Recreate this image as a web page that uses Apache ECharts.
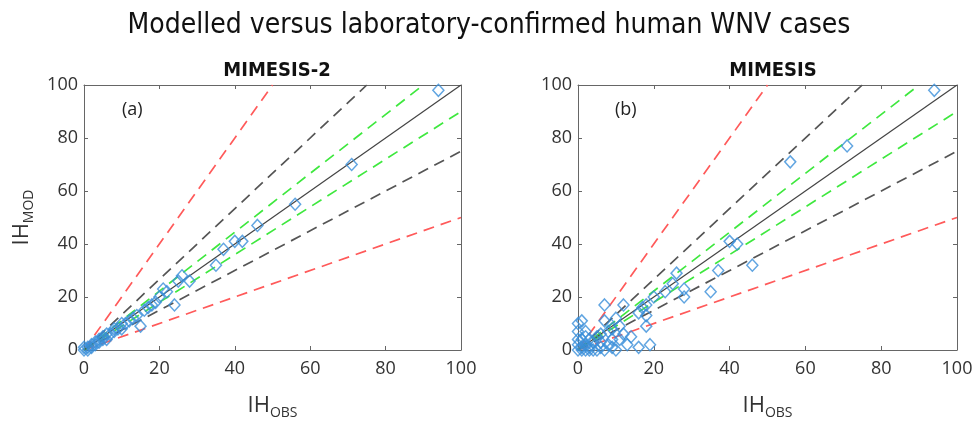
<!DOCTYPE html>
<html>
<head>
<meta charset="utf-8">
<script src="https://cdn.jsdelivr.net/npm/echarts@6/dist/echarts.min.js"></script>
<style>
  html, body { margin: 0; padding: 0; background: #fff; }
  #chart { width: 978px; height: 426px; }
</style>
</head>
<body>
<div id="chart"></div>
<script>
// observed vs modelled cases, panel (a) MIMESIS-2
var pointsA = [
  [94, 98], [71, 70], [56, 55], [46, 47], [42, 41], [40, 41], [37, 38], [35, 32],
  [28, 26], [26, 28], [25, 26], [24, 17], [22, 22], [21, 23], [20, 20], [19, 18],
  [18, 17], [17, 16], [16, 15], [15, 9], [14, 13], [13, 12], [12, 11], [11, 10],
  [10, 10], [10, 8], [9, 8], [8, 8], [8, 7], [7, 6], [6, 6], [6, 4], [5, 5],
  [5, 4], [4, 4], [4, 3], [3, 3], [3, 2], [2, 2], [2, 1], [1, 1], [1, 0], [0, 0], [0, 1]
]
// panel (b) MIMESIS
var pointsB = [
  [94, 98], [71, 77], [56, 71], [40, 41], [42, 40], [46, 32], [37, 30], [35, 22],
  [26, 29], [25, 25], [28, 20], [23, 22], [28, 23], [20, 20], [18, 17], [17, 16],
  [18, 13], [18, 9], [16, 14], [12, 17], [7, 17], [7, 11], [10, 12], [11, 9],
  [12, 6], [9, 8], [8, 7], [6, 6], [5, 5], [4, 3], [3, 4], [2, 2], [1, 1],
  [0, 10], [1, 11], [0, 7], [1, 4], [2, 7], [3, 1], [4, 0], [5, 0], [6, 1],
  [7, 0], [8, 2], [9, 1], [10, 0], [13, 2], [16, 1], [19, 2], [11, 4], [14, 5],
  [0, 0], [0, 2], [1, 0], [2, 0], [3, 0], [0, 4], [2, 5], [6, 3], [9, 4]
]
var ticks = [0, 20, 40, 60, 80, 100]
// reference lines: [x0, y0, x1, y1]
var lineRed = [[0, 0, 50, 100], [0, 0, 100, 50]]
var lineBlackDash = [[0, 0, 75, 100], [0, 0, 100, 75]]
var lineGreen = [[0, 0, 90, 100], [0, 0, 100, 90]]
var lineOneToOne = [[0, 0, 100, 100]]

var chart = echarts.init(document.getElementById('chart'))

var grids = [
  { left: 84, top: 85, width: 377, height: 265 },
  { left: 578, top: 85, width: 379, height: 265 }
]

var labelFont = { color: '#333', fontSize: 18, fontFamily: 'Open Sans' }
var nameRich = {
  a: { fontSize: 22, color: '#333', fontFamily: 'Open Sans' },
  b: { fontSize: 14, color: '#333', fontFamily: 'Open Sans', padding: [14, 0, 0, 0] }
}

function makeAxes(i) {
  var xs = [
    {
      gridIndex: i, type: 'value', min: 0, max: 100, interval: 20, position: 'bottom',
      axisLine: { onZero: false, lineStyle: { color: '#666' } },
      axisTick: { inside: true, length: 4, lineStyle: { color: '#666' } },
      axisLabel: Object.assign({ margin: 10 }, labelFont),
      splitLine: { show: false },
      name: '{a|IH}{b|OBS}', nameLocation: 'middle', nameGap: 42,
      nameTextStyle: { rich: nameRich }
    },
    {
      gridIndex: i, type: 'value', min: 0, max: 100, interval: 20, position: 'top',
      axisLine: { onZero: false, lineStyle: { color: '#666' } },
      axisTick: { inside: true, length: 4, lineStyle: { color: '#666' } },
      axisLabel: { show: false }, splitLine: { show: false }
    }
  ]
  var ys = [
    {
      gridIndex: i, type: 'value', min: 0, max: 100, interval: 20, position: 'left',
      axisLine: { onZero: false, lineStyle: { color: '#666' } },
      axisTick: { inside: true, length: 4, lineStyle: { color: '#666' } },
      axisLabel: Object.assign({ margin: 6 }, labelFont),
      splitLine: { show: false }
    },
    {
      gridIndex: i, type: 'value', min: 0, max: 100, interval: 20, position: 'right',
      axisLine: { onZero: false, lineStyle: { color: '#666' } },
      axisTick: { inside: true, length: 4, lineStyle: { color: '#666' } },
      axisLabel: { show: false }, splitLine: { show: false }
    }
  ]
  if (i === 0) {
    ys[0].name = '{a|IH}{b|MOD}'
    ys[0].nameLocation = 'middle'
    ys[0].nameGap = 48
    ys[0].nameTextStyle = { rich: nameRich }
  }
  return { xs: xs, ys: ys }
}

var xAxis = [], yAxis = []
;[0, 1].forEach(function (i) {
  var a = makeAxes(i)
  xAxis = xAxis.concat(a.xs)
  yAxis = yAxis.concat(a.ys)
})

function refSeries(idx, segs, color, type, width) {
  return segs.map(function (s) {
    return {
      type: 'line', xAxisIndex: idx * 2, yAxisIndex: idx * 2,
      data: [[s[0], s[1]], [s[2], s[3]]],
      symbol: 'none', silent: true, z: 2,
      lineStyle: { color: color, type: type, width: width }
    }
  })
}

var series = []
;[0, 1].forEach(function (i) {
  series = series.concat(
    refSeries(i, lineRed, '#ff5a5a', [11, 7], 1.7),
    refSeries(i, lineBlackDash, '#555', [11, 7], 1.7),
    refSeries(i, lineGreen, '#3fe83f', [11, 7], 1.7),
    refSeries(i, lineOneToOne, '#444', 'solid', 1.2)
  )
  series.push({
    type: 'scatter', xAxisIndex: i * 2, yAxisIndex: i * 2,
    data: i === 0 ? pointsA : pointsB,
    symbol: 'diamond', symbolSize: [11, 12], z: 3,
    itemStyle: { color: 'transparent', borderColor: '#3a8fd9', borderWidth: 1.5 }
  })
})

chart.setOption({
  animation: false,
  backgroundColor: '#fff',
  title: [
    {
      text: 'Modelled versus laboratory-confirmed human WNV cases',
      left: 'center', top: 7,
      textStyle: { fontSize: 28, fontWeight: 'normal', color: '#111', fontFamily: 'DejaVu Sans Condensed' }
    },
    {
      text: 'MIMESIS-2', left: 272, top: 56, textAlign: 'center',
      textStyle: { fontSize: 20, fontWeight: 'bold', color: '#111', fontFamily: 'DejaVu Sans Condensed' }
    },
    {
      text: 'MIMESIS', left: 768, top: 56, textAlign: 'center',
      textStyle: { fontSize: 20, fontWeight: 'bold', color: '#111', fontFamily: 'DejaVu Sans Condensed' }
    }
  ],
  graphic: [
    { type: 'text', left: 122, top: 101, style: { text: '(a)', fontSize: 18, fill: '#222', fontFamily: 'Open Sans' } },
    { type: 'text', left: 615, top: 101, style: { text: '(b)', fontSize: 18, fill: '#222', fontFamily: 'Open Sans' } }
  ],
  grid: grids,
  xAxis: xAxis,
  yAxis: yAxis,
  series: series
})
</script>
</body>
</html>
